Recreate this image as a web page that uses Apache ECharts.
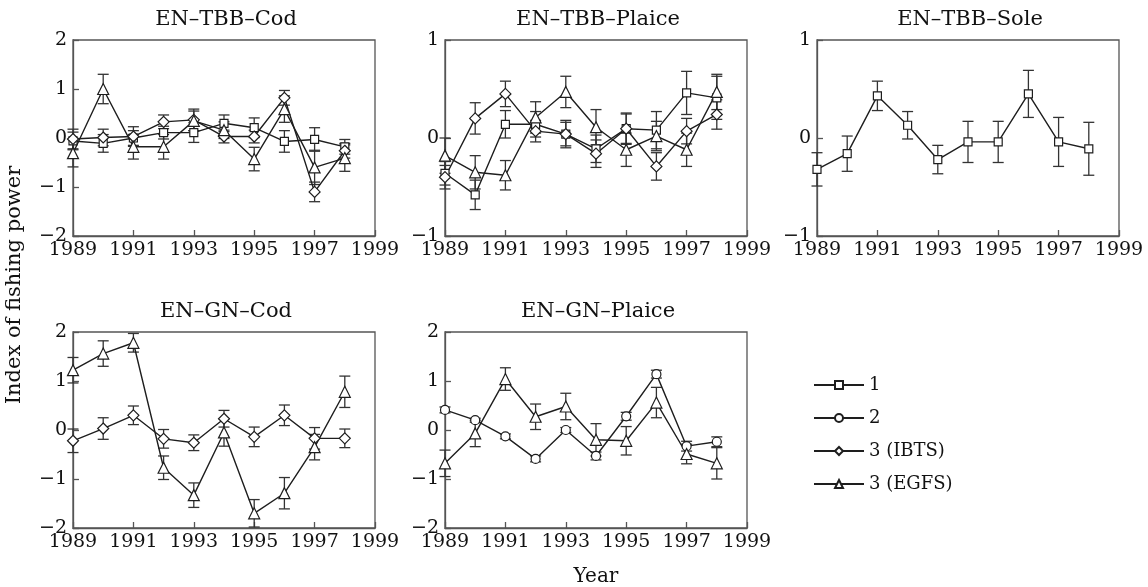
<!DOCTYPE html>
<html><head><meta charset="utf-8">
<script src="https://cdn.jsdelivr.net/npm/echarts@6/dist/echarts.min.js"></script>
<style>html,body{margin:0;padding:0;background:#fff}#c{width:1148px;height:587px}</style>
</head><body><div id="c"></div>
<script>
const years = ['1989','1990','1991','1992','1993','1994','1995','1996','1997','1998','1999'];
const panelTitles = ['EN–TBB–Cod','EN–TBB–Plaice','EN–TBB–Sole','EN–GN–Cod','EN–GN–Plaice'];
const seriesNames = ['1','2','3 (IBTS)','3 (EGFS)'];

// EN–TBB–Cod
const tbbCod_1 = [-0.06,-0.11,0.00,0.11,0.11,0.30,0.21,-0.07,-0.03,-0.18];
const tbbCod_1_err = [0.18,0.18,0.15,0.13,0.20,0.17,0.20,0.22,0.24,0.15];
const tbbCod_ibts = [-0.02,0.01,0.03,0.33,0.37,0.03,0.03,0.82,-1.10,-0.26];
const tbbCod_ibts_err = [0.20,0.17,0.20,0.14,0.22,0.13,0.13,0.15,0.20,0.15];
const tbbCod_egfs = [-0.31,1.00,-0.18,-0.18,0.35,0.16,-0.43,0.59,-0.60,-0.41];
const tbbCod_egfs_err = [0.28,0.30,0.25,0.25,0.20,0.17,0.24,0.27,0.35,0.27];

// EN–TBB–Plaice
const tbbPlaice_1 = [-0.36,-0.58,0.14,0.14,0.04,-0.11,0.095,0.08,0.46,0.41];
const tbbPlaice_1_err = [0.12,0.15,0.14,0.13,0.12,0.14,0.16,0.19,0.22,0.22];
const tbbPlaice_ibts = [-0.40,0.20,0.45,0.07,0.04,-0.16,0.095,-0.29,0.07,0.24];
const tbbPlaice_ibts_err = [0.12,0.16,0.13,0.11,0.14,0.14,0.15,0.14,0.13,0.15];
const tbbPlaice_egfs = [-0.18,-0.35,-0.38,0.21,0.47,0.11,-0.12,0.02,-0.12,0.47];
const tbbPlaice_egfs_err = [0.18,0.17,0.15,0.16,0.16,0.18,0.17,0.15,0.17,0.18];

// EN–TBB–Sole
const tbbSole_1 = [-0.32,-0.16,0.43,0.13,-0.22,-0.04,-0.04,0.45,-0.04,-0.11];
const tbbSole_1_err = [0.17,0.18,0.15,0.14,0.145,0.21,0.21,0.24,0.25,0.27];

// EN–GN–Cod
const gnCod_ibts = [-0.22,0.03,0.30,-0.18,-0.26,0.23,-0.14,0.30,-0.17,-0.17];
const gnCod_ibts_err = [0.24,0.22,0.19,0.19,0.16,0.17,0.20,0.21,0.22,0.19];
const gnCod_egfs = [1.22,1.56,1.78,-0.77,-1.33,-0.05,-1.70,-1.29,-0.35,0.78];
const gnCod_egfs_err = [0.26,0.26,0.19,0.24,0.25,0.28,0.28,0.32,0.26,0.32];

// EN–GN–Plaice
const gnPlaice_2 = [0.41,0.20,-0.13,-0.59,0.00,-0.53,0.28,1.14,-0.33,-0.24];
const gnPlaice_2_err = [0.06,0.04,0.05,0.06,0.05,0.08,0.08,0.08,0.10,0.10];
const gnPlaice_egfs = [-0.68,-0.07,1.04,0.27,0.48,-0.20,-0.22,0.56,-0.49,-0.68];
const gnPlaice_egfs_err = [0.27,0.27,0.23,0.26,0.27,0.33,0.29,0.31,0.20,0.32];

const yRanges = [[-2,2],[-1,1],[-1,1],[-2,2],[-2,2]];

const FONT = 'DejaVu Serif';
const INK = '#1e1e1e';
const symbols = {'1':['rect',8],'2':['circle',9],'3 (IBTS)':['diamond',11],'3 (EGFS)':['triangle',11]};

const panels = [
  [['1',tbbCod_1,tbbCod_1_err],['3 (IBTS)',tbbCod_ibts,tbbCod_ibts_err],['3 (EGFS)',tbbCod_egfs,tbbCod_egfs_err]],
  [['1',tbbPlaice_1,tbbPlaice_1_err],['3 (IBTS)',tbbPlaice_ibts,tbbPlaice_ibts_err],['3 (EGFS)',tbbPlaice_egfs,tbbPlaice_egfs_err]],
  [['1',tbbSole_1,tbbSole_1_err]],
  [['3 (IBTS)',gnCod_ibts,gnCod_ibts_err],['3 (EGFS)',gnCod_egfs,gnCod_egfs_err]],
  [['2',gnPlaice_2,gnPlaice_2_err],['3 (EGFS)',gnPlaice_egfs,gnPlaice_egfs_err]]
];

const gridPos = [
  {left:73, top:40, width:302, height:196},
  {left:445, top:40, width:302, height:196},
  {left:817, top:40, width:302, height:196},
  {left:73, top:332, width:302, height:196},
  {left:445, top:332, width:302, height:196}
];

const fmtY = v => v < 0 ? '\u2212' + Math.abs(v) : String(v);

const grids = [], xAxes = [], yAxes = [], series = [], titles = [];
gridPos.forEach((g, i) => {
  grids.push(Object.assign({show:true, borderColor:'#555', borderWidth:1.3, backgroundColor:'transparent', containLabel:false}, g));
  xAxes.push({
    type:'category', gridIndex:i, data:years, boundaryGap:false,
    axisLine:{onZero:false, lineStyle:{color:'#555', width:1.3}},
    axisTick:{inside:true, length:6, interval:1, lineStyle:{color:'#555', width:1.3}},
    axisLabel:{interval:1, color:'#111', fontFamily:FONT, fontSize:19, margin:5},
    splitLine:{show:false}
  });
  yAxes.push({
    type:'value', gridIndex:i, min:yRanges[i][0], max:yRanges[i][1], interval:1,
    axisLine:{show:true, onZero:false, lineStyle:{color:'#555', width:1.3}},
    axisTick:{show:true, inside:true, length:6, lineStyle:{color:'#555', width:1.3}},
    axisLabel:{color:'#111', fontFamily:FONT, fontSize:19, margin:6, formatter:fmtY},
    splitLine:{show:false}
  });
  titles.push({text:panelTitles[i], left:g.left + g.width/2 - 3, top:g.top - 36, textAlign:'center',
    textStyle:{fontFamily:FONT, fontSize:21, fontWeight:'normal', color:'#111'}});
  panels[i].forEach(([name, vals, errs]) => {
    series.push({
      type:'custom', name:name + ' err', xAxisIndex:i, yAxisIndex:i, z:1, silent:true,
      data: vals.map((v, k) => [k, v, errs[k]]),
      encode:{x:0, y:1},
      renderItem:(params, api) => {
        const x = api.value(0), y = api.value(1), e = api.value(2);
        const t = api.coord([x, y + e]), b = api.coord([x, y - e]);
        const hw = 5.5, st = {stroke:'#333', lineWidth:1.3};
        return {type:'group', children:[
          {type:'line', shape:{x1:t[0], y1:t[1], x2:b[0], y2:b[1]}, style:st},
          {type:'line', shape:{x1:t[0]-hw, y1:t[1], x2:t[0]+hw, y2:t[1]}, style:st},
          {type:'line', shape:{x1:b[0]-hw, y1:b[1], x2:b[0]+hw, y2:b[1]}, style:st}
        ]};
      }
    });
    series.push({
      type:'line', name:name, xAxisIndex:i, yAxisIndex:i, z:3,
      data: vals, symbol:symbols[name][0], symbolSize:symbols[name][1], showAllSymbol:true,
      lineStyle:{color:INK, width:1.4}, itemStyle:{color:'#fff', borderColor:INK, borderWidth:1.2},
      emphasis:{disabled:true}, animation:false
    });
  });
});

const chart = echarts.init(document.getElementById('c'), null, {renderer:'canvas'});
chart.setOption({
  animation:false,
  backgroundColor:'#fff',
  title:titles,
  grid:grids, xAxis:xAxes, yAxis:yAxes, series:series,
  legend:{
    data:seriesNames, orient:'vertical', left:808, top:371, itemWidth:50, itemHeight:10, itemGap:15,
    textStyle:{fontFamily:FONT, fontSize:18, color:'#111'}, selectedMode:false,
    inactiveColor:'#111'
  },
  graphic:[
    {type:'text', x:15, y:285, rotation:Math.PI/2, style:{text:'Index of fishing power', font:'21px "DejaVu Serif"', fill:'#111', textAlign:'center', textVerticalAlign:'middle'}},
    {type:'text', x:596, y:577, style:{text:'Year', font:'20px "DejaVu Serif"', fill:'#111', textAlign:'center', textVerticalAlign:'middle'}}
  ]
});
</script></body></html>
